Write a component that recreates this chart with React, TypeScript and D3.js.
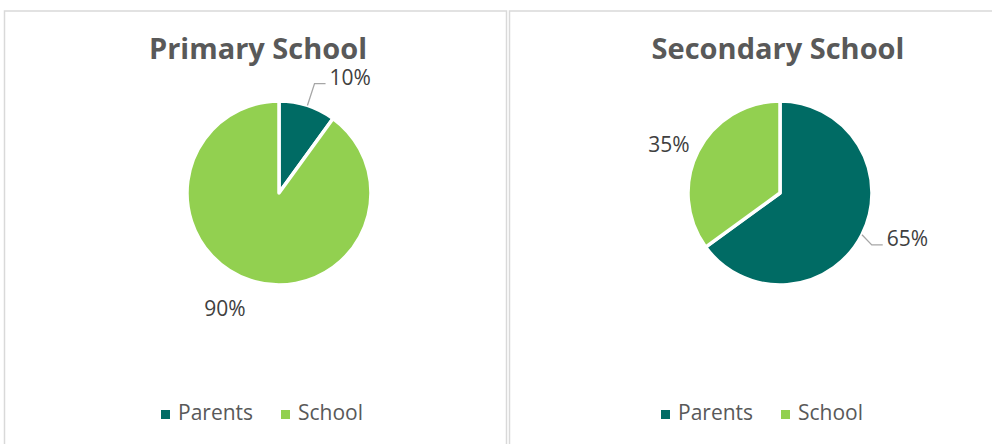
import React from 'react';
import * as d3 from 'd3';

// ---- data ----
const categories = ['Parents', 'School'];
const chartTitles = ['Primary School', 'Secondary School'];
const primaryValues = [10, 90];
const secondaryValues = [65, 35];
const seriesColors = ['#006B64', '#92D050'];

// ---- layout / style ----
const W = 992;
const H = 444;
const FONT = "'Open Sans', 'Segoe UI', sans-serif";
const panels = [
  { x: 4.5, w: 502, titleX: 258, cx: 279, legendX: 262, values: primaryValues, title: chartTitles[0],
    labels: [{ leader: true, r: 115, nudge: 0 }, { leader: false, r: 121, nudge: 0 }] },
  { x: 509.5, w: 520, titleX: 778, cx: 780, legendX: 762, values: secondaryValues, title: chartTitles[1],
    labels: [{ leader: true, r: 105.4, nudge: 2.5 }, { leader: false, r: 106, nudge: 0 }] },
];
const CY = 193;
const R = 92;
const PANEL_TOP = 11;

const pieGen = d3.pie<number>().sort(null).value((d) => d);
const arcGen = d3.arc<d3.PieArcDatum<number>>().innerRadius(0).outerRadius(R);

function polar(cx: number, cy: number, ang: number, r: number): [number, number] {
  return [cx + Math.sin(ang) * r, cy - Math.cos(ang) * r];
}

function Legend({ cx }: { cx: number }) {
  const sq = 9;
  const gapText = 8;
  const textW = [73, 65];
  const itemGap = 30;
  const widths = categories.map((_, i) => sq + gapText + textW[i]);
  const total = d3.sum(widths) + itemGap * (categories.length - 1);
  let x = cx - total / 2;
  const items = categories.map((c, i) => {
    const ix = x;
    x += widths[i] + itemGap;
    return (
      <g key={c}>
        <rect x={ix} y={410} width={sq} height={sq} fill={seriesColors[i]} />
        <text x={ix + sq + gapText} y={420} fontFamily={FONT} fontSize={21} fill="#595959">{c}</text>
      </g>
    );
  });
  return <g>{items}</g>;
}

function PiePanel({ p }: { p: (typeof panels)[number] }) {
  const arcs = pieGen(p.values);
  const total = d3.sum(p.values);
  return (
    <g>
      <rect x={p.x} y={PANEL_TOP} width={p.w} height={H + 20} fill="#fff" stroke="#d9d9d9" strokeWidth={1.5} />
      <text x={p.titleX} y={59} textAnchor="middle" fontFamily={FONT} fontWeight={700} fontSize={29} fill="#595959">
        {p.title}
      </text>
      <g transform={`translate(${p.cx},${CY})`}>
        {arcs.map((a, i) => (
          <path key={i} d={arcGen(a) || ''} fill={seriesColors[i]} stroke="#fff" strokeWidth={3.5} strokeLinejoin="round" />
        ))}
      </g>
      {arcs.map((a, i) => {
        const cfg = p.labels[i];
        const mid = (a.startAngle + a.endAngle) / 2;
        const label = `${Math.round((a.value / total) * 100)}%`;
        const side = Math.sin(mid) >= 0 ? 1 : -1;
        if (cfg.leader) {
          const ang = mid + (cfg.nudge * Math.PI) / 180;
          const [sx, sy] = polar(p.cx, CY, mid, R);
          const [ex, ey] = polar(p.cx, CY, ang, cfg.r);
          const hx = ex + 11 * side;
          return (
            <g key={`l${i}`}>
              <polyline points={`${sx},${sy} ${ex},${ey} ${hx},${ey}`} fill="none" stroke="#a6a6a6" strokeWidth={1.3} />
              <text x={ex + 15 * side} y={ey + 1} textAnchor={side > 0 ? 'start' : 'end'} fontFamily={FONT} fontSize={21} fill="#404040">
                {label}
              </text>
            </g>
          );
        }
        const [lx, ly] = polar(p.cx, CY, mid, cfg.r);
        return (
          <text key={`l${i}`} x={lx - 4 * side} y={ly + 7.5} textAnchor={side > 0 ? 'start' : 'end'} fontFamily={FONT} fontSize={21} fill="#404040">
            {label}
          </text>
        );
      })}
      <Legend cx={p.legendX} />
    </g>
  );
}

export default function App() {
  return (
    <svg width={W} height={H} style={{ position: 'absolute', left: 0, top: 0, background: '#fff' }}>
      <rect x={0} y={0} width={W} height={H} fill="#fff" />
      {panels.map((p, i) => (
        <PiePanel key={i} p={p} />
      ))}
    </svg>
  );
}
